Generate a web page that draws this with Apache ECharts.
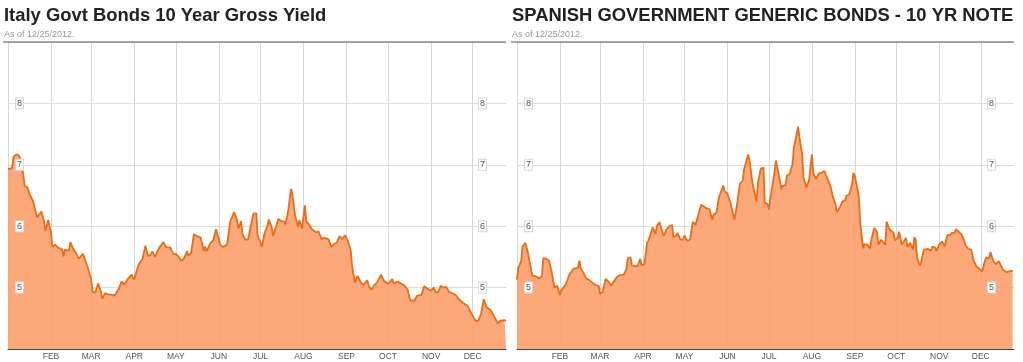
<!DOCTYPE html>
<html>
<head>
<meta charset="utf-8">
<script src="https://cdn.jsdelivr.net/npm/echarts@6/dist/echarts.min.js"></script>
<style>
html,body{margin:0;padding:0;background:#fff;}
#c{width:1023px;height:362px;}
</style>
</head>
<body>
<div id="c"></div>
<script>
// ---- Data (day offset from 2012-01-01, yield %) ----
const titles = ["Italy Govt Bonds 10 Year Gross Yield", "SPANISH GOVERNMENT GENERIC BONDS - 10 YR NOTE"];
const subtitle = "As of 12/25/2012.";
const monthNames = ["","FEB","MAR","APR","MAY","JUN","JUL","AUG","SEP","OCT","NOV","DEC"];
const yTicks = [5, 6, 7, 8];

const italyDays = [0,3,4,6,8,10,12,14,16,18,21,24,26,27,29,31,32,34,36,39,40,41,44,45,47,49,51,52,54,56,58,60,61,63,65,67,68,70,72,75,77,80,82,84,86,87,89,91,92,94,97,98,99,101,103,104,106,107,109,112,114,117,119,121,123,125,127,129,130,132,134,136,139,141,142,143,146,148,150,151,153,155,158,160,163,165,166,168,169,171,173,
177,179,180,182,183,185,187,188,190,191,193,195,197,199,200,202,204,205,207,209,210,212,214,215,217,219,222,224,226,228,231,233,235,237,239,241,243,245,247,248,250,252,254,256,259,260,262,264,266,269,271,274,275,277,278,281,283,286,288,290,293,295,298,300,302,305,307,308,310,312,314,316,318,321,323,325,328,331,334,337,339,341,342,343,345,348,350,353,355,358,359];
const italyYield = [6.93,6.95,7.13,7.17,7.15,7.02,6.66,6.63,6.50,6.41,6.14,6.24,6.08,5.92,6.10,5.89,5.66,5.70,5.65,5.62,5.51,5.62,5.60,5.74,5.63,5.56,5.47,5.50,5.55,5.43,5.29,5.13,4.93,4.92,5.07,4.93,4.82,4.91,4.89,4.88,4.87,4.99,5.10,5.05,5.13,5.13,5.21,5.13,5.16,5.37,5.47,5.48,5.68,5.51,5.54,5.59,5.50,5.50,5.65,5.74,5.66,5.65,5.55,5.55,5.50,5.43,5.48,5.59,5.52,5.56,5.87,5.84,5.81,5.60,5.67,5.59,5.73,5.77,5.95,5.87,5.70,5.66,5.70,6.06,6.23,6.11,5.96,6.08,5.87,5.78,5.78,
6.21,6.21,5.84,5.73,5.66,5.89,6.00,6.11,5.99,5.84,5.98,6.12,6.08,6.08,6.03,6.25,6.61,6.52,6.17,5.99,6.10,5.96,6.34,6.08,6.03,5.95,5.90,5.91,5.79,5.81,5.79,5.66,5.71,5.73,5.84,5.79,5.85,5.76,5.62,5.37,5.08,5.19,5.10,5.04,5.12,5.03,4.96,5.04,5.08,5.21,5.11,5.06,5.08,5.14,5.07,5.10,5.07,5.03,4.97,4.79,4.79,4.87,4.88,5.02,4.99,4.95,5.00,4.93,4.92,5.03,5.00,5.01,4.93,4.90,4.87,4.81,4.75,4.71,4.58,4.46,4.46,4.57,4.55,4.81,4.68,4.63,4.55,4.42,4.46,4.47,4.46];

const spainDays = [0,1,3,4,6,8,9,10,11,12,14,16,18,19,21,23,25,27,29,31,32,35,36,38,39,41,42,44,45,46,48,50,53,55,57,59,60,62,64,66,68,70,72,74,77,79,80,82,83,85,87,89,90,92,94,95,96,98,100,101,103,104,106,108,110,112,113,115,116,118,120,121,123,125,127,129,131,133,135,137,139,141,142,144,146,147,149,150,152,154,155,157,159,161,163,164,165,167,168,170,171,173,174,
176,178,179,181,182,184,186,187,189,191,192,194,195,197,199,200,202,203,204,206,207,209,211,212,213,214,216,218,220,222,223,225,227,228,230,231,233,235,237,238,240,242,243,244,246,247,248,250,251,253,255,256,258,260,261,263,264,266,267,269,272,273,275,276,278,279,281,282,284,286,287,288,289,291,292,294,295,297,299,300,302,303,305,307,309,310,311,313,314,316,317,319,321,323,324,326,328,330,332,334,336,338,339,341,342,344,346,348,350,351,354,356,358];
const spainYield = [5.13,5.32,5.43,5.67,5.73,5.56,5.43,5.32,5.20,5.23,5.18,5.15,5.18,5.48,5.47,5.44,5.26,5.00,5.03,4.88,4.96,5.04,5.10,5.22,5.21,5.31,5.29,5.32,5.44,5.32,5.24,5.15,5.11,5.07,5.04,5.03,4.90,4.93,5.14,5.10,5.03,5.10,5.17,5.20,5.21,5.29,5.48,5.49,5.36,5.35,5.35,5.47,5.36,5.38,5.73,5.77,5.76,5.98,5.87,6.00,6.07,5.98,5.84,5.95,6.00,6.02,5.82,5.85,5.89,5.78,5.78,5.85,5.76,5.78,6.07,6.02,6.19,6.35,6.32,6.29,6.28,6.10,6.19,6.22,6.48,6.50,6.66,6.57,6.53,6.39,6.30,6.11,6.36,6.69,6.74,6.92,6.91,7.17,7.07,6.72,6.61,6.40,6.70,
6.93,6.96,6.38,6.36,6.27,6.60,6.87,7.07,6.85,6.60,6.66,6.67,6.82,6.85,7.01,7.28,7.50,7.62,7.45,7.17,6.79,6.63,6.75,6.77,7.17,6.87,6.77,6.86,6.87,6.90,6.84,6.74,6.60,6.49,6.36,6.23,6.30,6.40,6.42,6.49,6.52,6.68,6.87,6.82,6.60,6.44,6.03,5.64,5.71,5.70,5.64,5.78,5.97,5.91,5.70,5.78,5.77,5.70,6.07,5.95,5.89,5.77,5.81,5.91,5.70,5.71,5.81,5.66,5.73,5.62,5.82,5.78,5.48,5.36,5.43,5.62,5.59,5.63,5.60,5.67,5.65,5.60,5.70,5.75,5.67,5.78,5.86,5.85,5.89,5.89,5.95,5.91,5.87,5.77,5.69,5.63,5.62,5.43,5.34,5.31,5.26,5.44,5.49,5.48,5.58,5.43,5.38,5.43,5.34,5.29,5.25,5.27,5.27];

// ---- helpers ----
function toSeries(days, vals) {
  return days.map((d, i) => [new Date(2012, 0, 1 + d).getTime(), vals[i]]);
}
const xMin = new Date(2012, 0, 1).getTime();
const xMax = new Date(2012, 11, 25).getTime();
const FONT = "'Liberation Sans', Arial, sans-serif";

const grids = [
  {left: 8, top: 42, width: 498, height: 307},
  {left: 517, top: 42, width: 497, height: 307}
];
const lineColor = '#e86d18';
const fillColor = 'rgba(252,158,106,0.9)';

function xAxisFor(gi) {
  return {
    type: 'time', gridIndex: gi, min: xMin, max: xMax,
    splitNumber: 12,
    minInterval: 28 * 864e5, maxInterval: 31 * 864e5,
    axisLine: {show: true, lineStyle: {color: '#444', width: 1}},
    axisTick: {show: false},
    splitLine: {show: true, showMinLine: false, showMaxLine: false, lineStyle: {color: '#d6d6d6', width: 1}},
    axisLabel: {
      showMinLabel: false, showMaxLabel: false,
      color: '#555', fontSize: 8.5, fontFamily: FONT, margin: 3,
      formatter: function (v) { return monthNames[new Date(v).getMonth()]; }
    }
  };
}
// axis that only draws the horizontal grid lines (beneath the area)
function yGridAxis(gi) {
  return {
    type: 'value', gridIndex: gi, position: 'left', min: 4, max: 9, interval: 1, z: 0,
    axisLine: {show: false}, axisTick: {show: false}, axisLabel: {show: false},
    splitLine: {show: true, lineStyle: {color: '#dedede', width: 1}}
  };
}
// axis that only draws the boxed labels (above the area)
function yLabelAxis(gi, pos, margin) {
  return {
    type: 'value', gridIndex: gi, position: pos, min: 4, max: 9, interval: 1, z: 10,
    axisLine: {show: false}, axisTick: {show: false}, splitLine: {show: false},
    axisLabel: {
      inside: true, margin: margin, showMinLabel: false, showMaxLabel: false,
      color: '#555', fontSize: 9, fontFamily: FONT,
      backgroundColor: '#fff', borderColor: '#d8d8d8', borderWidth: 1,
      padding: [1, 1, 0, 1],
      formatter: function (v) { return yTicks.indexOf(v) >= 0 ? String(v) : ''; }
    }
  };
}
function seriesFor(gi, data) {
  return {
    type: 'line', xAxisIndex: gi, yAxisIndex: gi * 3, data: data,
    showSymbol: false, symbol: 'none', smooth: false,
    lineStyle: {color: lineColor, width: 1.8},
    itemStyle: {color: lineColor},
    areaStyle: {color: fillColor, opacity: 1},
    z: 3
  };
}

const chart = echarts.init(document.getElementById('c'), null, {renderer: 'canvas'});
chart.setOption({
  animation: false,
  backgroundColor: '#fff',
  title: [
    {text: titles[0], subtext: subtitle, left: 4, top: 7, itemGap: 5, padding: 0,
     textStyle: {fontSize: 18.4, fontWeight: 'bold', color: '#222', fontFamily: FONT},
     subtextStyle: {fontSize: 9, color: '#999', fontFamily: FONT}},
    {text: titles[1], subtext: subtitle, left: 512, top: 7, itemGap: 5, padding: 0,
     textStyle: {fontSize: 18.4, fontWeight: 'bold', color: '#222', fontFamily: FONT},
     subtextStyle: {fontSize: 9, color: '#999', fontFamily: FONT}}
  ],
  grid: grids,
  xAxis: [xAxisFor(0), xAxisFor(1)],
  yAxis: [
    yGridAxis(0), yLabelAxis(0, 'left', 8), yLabelAxis(0, 'right', 20),
    yGridAxis(1), yLabelAxis(1, 'left', 8), yLabelAxis(1, 'right', 19)
  ],
  series: [
    seriesFor(0, toSeries(italyDays, italyYield)),
    seriesFor(1, toSeries(spainDays, spainYield))
  ],
  graphic: [
    {type: 'line', z: 100, shape: {x1: 3, y1: 42, x2: 506, y2: 42}, style: {stroke: '#555', lineWidth: 1.2}},
    {type: 'line', z: 100, shape: {x1: 511, y1: 42, x2: 1014, y2: 42}, style: {stroke: '#555', lineWidth: 1.2}}
  ]
});
</script>
</body>
</html>
